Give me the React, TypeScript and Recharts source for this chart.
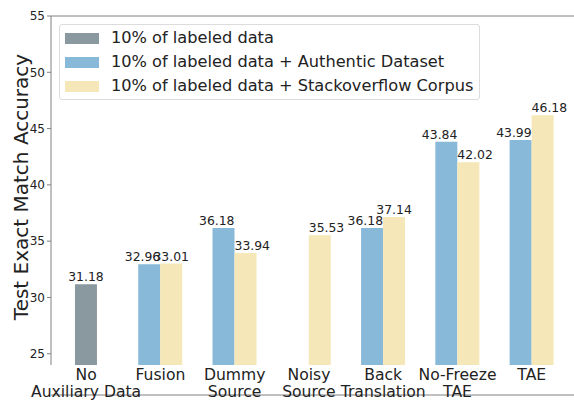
import { BarChart, Bar, XAxis, YAxis, ReferenceLine, LabelList } from "recharts";

const categories = [
  "No\nAuxiliary Data",
  "Fusion",
  "Dummy\nSource",
  "Noisy\nSource",
  "Back\nTranslation",
  "No-Freeze\nTAE",
  "TAE",
];
const labeledOnly = [31.18, null, null, null, null, null, null];
const authentic = [null, 32.96, 36.18, null, 36.18, 43.84, 43.99];
const stackoverflow = [null, 33.01, 33.94, 35.53, 37.14, 42.02, 46.18];
const yTicks = [25, 30, 35, 40, 45, 50, 55];
const seriesNames = [
  "10% of labeled data",
  "10% of labeled data + Authentic Dataset",
  "10% of labeled data + Stackoverflow Corpus",
];
const colors = ["#8a989f", "#89b9d8", "#f6e7b8"];

const data = categories.map((name, i) => ({
  x: i,
  name,
  base: labeledOnly[i],
  auth: authentic[i],
  so: stackoverflow[i],
}));

const font = "'DejaVu Sans', sans-serif";
const spine = "#808080";
const chartH = 401;
const xAxisH = 36;
const axisY = chartH - xAxisH;

function CatTick(props: any) {
  const { x, payload } = props;
  const lines = categories[payload.value].split("\n");
  return (
    <text x={x} y={axisY} textAnchor="middle" fontSize={15.6} fill="#222" fontFamily={font}>
      {lines.map((l, i) => (
        <tspan key={i} x={x} dy={i === 0 ? 15 : 17}>
          {l}
        </tspan>
      ))}
    </text>
  );
}

function YLabel() {
  return (
    <text
      x={28}
      y={187}
      transform="rotate(-90 28 187)"
      textAnchor="middle"
      fontSize={20}
      fill="#222"
      fontFamily={font}
    >
      Test Exact Match Accuracy
    </text>
  );
}

// labels of a pair meet at the group centre, a lone bar gets a centred label
function makeLabel(side: "left" | "right" | "center") {
  return (props: any) => {
    const { x, y, width, value, index } = props;
    if (value == null) return null;
    let anchor = "middle";
    let tx = x + width / 2;
    if (side === "left") {
      anchor = "end";
      tx = x + width;
    } else if (side === "right" && authentic[index] != null) {
      anchor = "start";
      tx = x;
    }
    return (
      <text x={tx} y={y - 3} textAnchor={anchor} fontSize={12.4} fill="#222" fontFamily={font}>
        {Number(value).toFixed(2)}
      </text>
    );
  };
}

export default function App() {
  return (
    <div
      style={{
        position: "absolute",
        left: 0,
        top: 0,
        width: 574,
        height: 401,
        overflow: "hidden",
        background: "#fff",
        fontFamily: font,
      }}
    >
      <BarChart
        width={580}
        height={chartH}
        data={data}
        barGap={0}
        margin={{ top: 16, right: 2, left: 0, bottom: 0 }}
        style={{ fontFamily: font }}
      >
        <XAxis
          xAxisId="main"
          type="number"
          dataKey="x"
          domain={[-0.4725, 6.6225]}
          ticks={[0, 1, 2, 3, 4, 5, 6]}
          interval={0}
          allowDataOverflow
          tick={<CatTick />}
          tickLine={false}
          height={xAxisH}
          stroke={spine}
        />
        <XAxis
          xAxisId="g"
          type="number"
          dataKey="x"
          domain={[-0.4725, 6.6225]}
          allowDataOverflow
          hide
        />
        <YAxis
          domain={[24, 55]}
          ticks={yTicks}
          allowDataOverflow
          width={51}
          tickSize={4}
          tickMargin={2}
          stroke={spine}
          tick={{ fill: "#222", fontSize: 12, fontFamily: font }}
          label={<YLabel />}
        />
        <ReferenceLine xAxisId="main" y={55} stroke={spine} />
        <Bar xAxisId="g" dataKey="base" barSize={22} fill={colors[0]} isAnimationActive={false}>
          <LabelList dataKey="base" content={makeLabel("center")} />
        </Bar>
        <Bar xAxisId="main" dataKey="auth" barSize={22} fill={colors[1]} isAnimationActive={false}>
          <LabelList dataKey="auth" content={makeLabel("left")} />
        </Bar>
        <Bar xAxisId="main" dataKey="so" barSize={22} fill={colors[2]} isAnimationActive={false}>
          <LabelList dataKey="so" content={makeLabel("right")} />
        </Bar>
      </BarChart>
      <div
        style={{
          position: "absolute",
          left: 59,
          top: 24,
          width: 419,
          height: 74,
          border: "1px solid #dcdcdc",
          borderRadius: 3,
          background: "rgba(255,255,255,0.8)",
        }}
      >
        {seriesNames.map((n, i) => (
          <div
            key={n}
            style={{
              position: "absolute",
              left: 5,
              top: 1 + i * 24,
              height: 24,
              display: "flex",
              alignItems: "center",
              whiteSpace: "nowrap",
            }}
          >
            <span style={{ display: "inline-block", width: 34, height: 11, background: colors[i] }} />
            <span style={{ marginLeft: 12, fontSize: 16.2, color: "#222", lineHeight: "24px" }}>{n}</span>
          </div>
        ))}
      </div>
    </div>
  );
}
